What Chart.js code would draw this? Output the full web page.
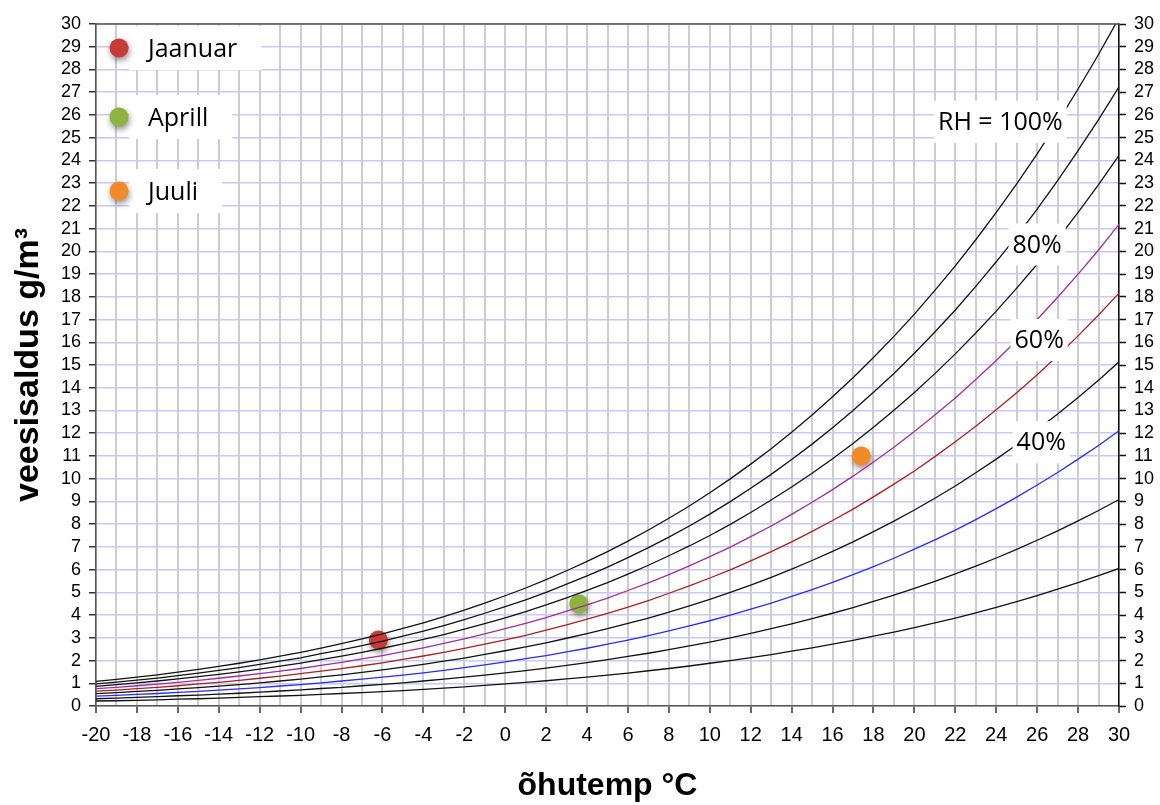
<!DOCTYPE html>
<html>
<head>
<meta charset="utf-8">
<script src="https://cdn.jsdelivr.net/npm/chart.js@4.4.1/dist/chart.umd.min.js"></script>
<style>
  html, body { margin: 0; padding: 0; background: #fff; }
  #chart { display: block; }
</style>
</head>
<body>
<canvas id="chart" width="1160" height="805"></canvas>
<script>
// air temperature, one step per degree
const temps = [-20, -19, -18, -17, -16, -15, -14, -13, -12, -11, -10, -9, -8, -7, -6, -5, -4, -3, -2, -1,
  0, 1, 2, 3, 4, 5, 6, 7, 8, 9, 10, 11, 12, 13, 14, 15, 16, 17, 18, 19,
  20, 21, 22, 23, 24, 25, 26, 27, 28, 29, 30];

// water content g/m3 at each RH
const rh100 = [1.08, 1.17, 1.27, 1.37, 1.49, 1.61, 1.74, 1.88, 2.03, 2.19, 2.36, 2.55, 2.74, 2.95, 3.17, 3.41, 3.66, 3.93, 4.22, 4.53,
  4.85, 5.19, 5.56, 5.95, 6.36, 6.79, 7.25, 7.74, 8.26, 8.80, 9.38, 9.99, 10.64, 11.32, 12.04, 12.80, 13.60, 14.44, 15.33, 16.26,
  17.24, 18.28, 19.36, 20.51, 21.71, 22.97, 24.29, 25.68, 27.14, 28.66, 30.27];
const rh90 = [0.97, 1.05, 1.14, 1.23, 1.34, 1.45, 1.57, 1.69, 1.83, 1.97, 2.12, 2.30, 2.47, 2.66, 2.85, 3.07, 3.29, 3.54, 3.80, 4.08,
  4.37, 4.67, 5.00, 5.36, 5.72, 6.11, 6.53, 6.97, 7.43, 7.92, 8.44, 8.99, 9.58, 10.19, 10.84, 11.52, 12.24, 13.00, 13.80, 14.63,
  15.52, 16.45, 17.42, 18.46, 19.54, 20.67, 21.86, 23.11, 24.43, 25.79, 27.24];
const rh80 = [0.86, 0.94, 1.02, 1.10, 1.19, 1.29, 1.39, 1.50, 1.62, 1.75, 1.89, 2.04, 2.19, 2.36, 2.54, 2.73, 2.93, 3.14, 3.38, 3.62,
  3.88, 4.15, 4.45, 4.76, 5.09, 5.43, 5.80, 6.19, 6.61, 7.04, 7.50, 7.99, 8.51, 9.06, 9.63, 10.24, 10.88, 11.55, 12.26, 13.01,
  13.79, 14.62, 15.49, 16.41, 17.37, 18.38, 19.43, 20.54, 21.71, 22.93, 24.22];
const rh70 = [0.76, 0.82, 0.89, 0.96, 1.04, 1.13, 1.22, 1.32, 1.42, 1.53, 1.65, 1.79, 1.92, 2.07, 2.22, 2.39, 2.56, 2.75, 2.95, 3.17,
  3.40, 3.63, 3.89, 4.17, 4.45, 4.75, 5.08, 5.42, 5.78, 6.16, 6.57, 6.99, 7.45, 7.92, 8.43, 8.96, 9.52, 10.11, 10.73, 11.38,
  12.07, 12.80, 13.55, 14.36, 15.20, 16.08, 17.00, 17.98, 19.00, 20.06, 21.19];
const rh60 = [0.65, 0.70, 0.76, 0.82, 0.89, 0.97, 1.04, 1.13, 1.22, 1.31, 1.42, 1.53, 1.64, 1.77, 1.90, 2.05, 2.20, 2.36, 2.53, 2.72,
  2.91, 3.11, 3.34, 3.57, 3.82, 4.07, 4.35, 4.64, 4.96, 5.28, 5.63, 5.99, 6.38, 6.79, 7.22, 7.68, 8.16, 8.66, 9.20, 9.76,
  10.34, 10.97, 11.62, 12.31, 13.03, 13.78, 14.57, 15.41, 16.28, 17.20, 18.16];
const rh50 = [0.54, 0.59, 0.64, 0.69, 0.75, 0.81, 0.87, 0.94, 1.02, 1.10, 1.18, 1.28, 1.37, 1.48, 1.59, 1.71, 1.83, 1.97, 2.11, 2.27,
  2.43, 2.60, 2.78, 2.98, 3.18, 3.40, 3.63, 3.87, 4.13, 4.40, 4.69, 5.00, 5.32, 5.66, 6.02, 6.40, 6.80, 7.22, 7.67, 8.13,
  8.62, 9.14, 9.68, 10.26, 10.86, 11.49, 12.15, 12.84, 13.57, 14.33, 15.14];
const rh40 = [0.43, 0.47, 0.51, 0.55, 0.60, 0.64, 0.70, 0.75, 0.81, 0.88, 0.94, 1.02, 1.10, 1.18, 1.27, 1.36, 1.46, 1.57, 1.69, 1.81,
  1.94, 2.08, 2.22, 2.38, 2.54, 2.72, 2.90, 3.10, 3.30, 3.52, 3.75, 4.00, 4.26, 4.53, 4.82, 5.12, 5.44, 5.78, 6.13, 6.50,
  6.90, 7.31, 7.74, 8.20, 8.68, 9.19, 9.72, 10.27, 10.86, 11.46, 12.11];
const rh30 = [0.32, 0.35, 0.38, 0.41, 0.45, 0.48, 0.52, 0.56, 0.61, 0.66, 0.71, 0.77, 0.82, 0.89, 0.95, 1.02, 1.10, 1.18, 1.27, 1.36,
  1.46, 1.56, 1.67, 1.79, 1.91, 2.04, 2.18, 2.32, 2.48, 2.64, 2.81, 3.00, 3.19, 3.40, 3.61, 3.84, 4.08, 4.33, 4.60, 4.88,
  5.17, 5.48, 5.81, 6.15, 6.51, 6.89, 7.29, 7.70, 8.14, 8.60, 9.08];
const rh20 = [0.22, 0.23, 0.25, 0.27, 0.30, 0.32, 0.35, 0.38, 0.41, 0.44, 0.47, 0.51, 0.55, 0.59, 0.63, 0.68, 0.73, 0.79, 0.84, 0.91,
  0.97, 1.04, 1.11, 1.19, 1.27, 1.36, 1.45, 1.55, 1.65, 1.76, 1.88, 2.00, 2.13, 2.26, 2.41, 2.56, 2.72, 2.89, 3.07, 3.25,
  3.45, 3.66, 3.87, 4.10, 4.34, 4.59, 4.86, 5.14, 5.43, 5.73, 6.05];

const curves = [rh100, rh90, rh80, rh70, rh60, rh50, rh40, rh30, rh20];
const curveNames = ["100%", "90%", "80%", "70%", "60%", "50%", "40%", "30%", "20%"];
const curveColors = ["#111", "#111", "#111", "#a02ca0", "#a82020", "#111", "#2a2aff", "#111", "#111"];

// monthly points
const monthNames = ["Jaanuar", "Aprill", "Juuli"];
const monthTemps = [-6.2, 3.6, 17.4];
const monthWater = [2.9, 4.5, 11.0];
const monthColors = ["#c93b38", "#8cb43e", "#f28a2a"];

// RH labels on the curves
const noteTexts = ["RH = 100%", "80%", "60%", "40%"];
const noteTemps = [24.2, 26.0, 26.1, 26.2];
const noteWater = [25.7, 20.3, 16.1, 11.6];

const xTicks = "-20 -18 -16 -14 -12 -10 -8 -6 -4 -2 0 2 4 6 8 10 12 14 16 18 20 22 24 26 28 30".split(" ").map(Number);

const datasets = curves.map((vals, k) => ({
  label: "RH " + curveNames[k],
  data: temps.map((t, i) => ({ x: t, y: vals[i] })),
  borderColor: curveColors[k],
  borderWidth: 1.3,
  pointRadius: 0,
  tension: 0,
  fill: false
}));

datasets.push({
  label: "kuud",
  data: monthTemps.map((t, i) => ({ x: t, y: monthWater[i] })),
  showLine: false,
  pointRadius: 9.5,
  pointHoverRadius: 9.5,
  pointBackgroundColor: monthColors,
  pointBorderWidth: 0
});
const monthIndex = datasets.length - 1;

const FONT = "'Liberation Sans', Arial, sans-serif";
const NOTE_FONT = "25px 'Open Sans', sans-serif";

const overlay = {
  id: "overlay",
  beforeDatasetDraw(chart, args) {
    if (args.index !== monthIndex) return;
    const ctx = chart.ctx;
    ctx.save();
    ctx.shadowColor = "rgba(0,0,0,0.45)";
    ctx.shadowBlur = 6;
    ctx.shadowOffsetX = 1;
    ctx.shadowOffsetY = 3;
  },
  afterDatasetDraw(chart, args) {
    if (args.index === monthIndex) chart.ctx.restore();
  },
  afterDatasetsDraw(chart) {
    const { ctx, chartArea, scales } = chart;
    ctx.save();
    // frame top line
    ctx.strokeStyle = "#555";
    ctx.lineWidth = 1.5;
    ctx.beginPath();
    ctx.moveTo(chartArea.left, chartArea.top);
    ctx.lineTo(chartArea.right, chartArea.top);
    ctx.stroke();

    ctx.font = NOTE_FONT;
    ctx.textBaseline = "middle";

    // curve labels
    ctx.textAlign = "center";
    noteTexts.forEach((txt, i) => {
      const px = scales.x.getPixelForValue(noteTemps[i]);
      const py = scales.y.getPixelForValue(noteWater[i]);
      const w = ctx.measureText(txt).width + 8;
      ctx.fillStyle = "#fff";
      ctx.fillRect(px - w / 2, py - 21, w, 42);
      ctx.fillStyle = "#000";
      ctx.fillText(txt, px, py + 1);
    });

    // legend
    const dotX = chartArea.left + 23;
    const rows = [24, 93, 167];
    ctx.textAlign = "left";
    monthNames.forEach((name, i) => {
      const y = chartArea.top + rows[i];
      const w = ctx.measureText(name).width;
      ctx.fillStyle = "#fff";
      ctx.fillRect(dotX + 10, y - 22, 19 + w + 24, 44);
      ctx.fillStyle = "#000";
      ctx.fillText(name, dotX + 29, y + 2);
      ctx.save();
      ctx.shadowColor = "rgba(0,0,0,0.45)";
      ctx.shadowBlur = 6;
      ctx.shadowOffsetX = 1;
      ctx.shadowOffsetY = 3;
      ctx.fillStyle = monthColors[i];
      ctx.beginPath();
      ctx.arc(dotX, y, 9.5, 0, Math.PI * 2);
      ctx.fill();
      ctx.restore();
    });
    ctx.restore();
  }
};

new Chart(document.getElementById("chart"), {
  type: "line",
  data: { datasets },
  options: {
    responsive: false,
    animation: false,
    layout: { padding: { top: 24, left: 0, right: 0, bottom: 0 } },
    plugins: { legend: { display: false }, tooltip: { enabled: false } },
    scales: {
      x: {
        type: "linear",
        min: -20,
        max: 30,
        afterBuildTicks: (s) => { s.ticks = temps.map((v) => ({ value: v })); },
        afterFit: (s) => { s.height = 99; },
        ticks: {
          autoSkip: false,
          maxRotation: 0,
          padding: 10,
          color: "#000",
          font: { family: FONT, size: 20 },
          callback: (v) => (xTicks.includes(v) ? String(v) : "")
        },
        grid: {
          color: "#cdcdcd",
          lineWidth: 2,
          tickLength: 7,
          tickWidth: 1.5,
          tickColor: (c) => (c.tick && xTicks.includes(c.tick.value) ? "#333" : "rgba(0,0,0,0)")
        },
        border: { color: "#555", width: 1.5 },
        title: {
          display: true,
          text: "õhutemp °C",
          color: "#000",
          font: { family: FONT, size: 32, weight: "bold" },
          padding: { top: 0, bottom: 0 }
        }
      },
      y: {
        min: 0,
        max: 30,
        afterFit: (s) => { s.width = 96; },
        ticks: {
          stepSize: 1,
          autoSkip: false,
          padding: 8,
          color: "#000",
          font: { family: FONT, size: 18 }
        },
        grid: { color: "#c8c8f6", lineWidth: 1.5, tickLength: 7, tickColor: "#333", tickWidth: 1.5 },
        border: { color: "#555", width: 1.5 },
        title: {
          display: true,
          text: "veesisaldus g/m³",
          color: "#000",
          font: { family: FONT, size: 34, weight: "bold" },
          padding: { top: 8, bottom: 0 }
        }
      },
      y2: {
        position: "right",
        min: 0,
        max: 30,
        afterFit: (s) => { s.width = 41; },
        ticks: {
          stepSize: 1,
          autoSkip: false,
          padding: 8,
          color: "#000",
          font: { family: FONT, size: 18 }
        },
        grid: { drawOnChartArea: false, tickLength: 7, tickColor: "#111", tickWidth: 1.5 },
        border: { color: "#111", width: 1.5 }
      }
    }
  },
  plugins: [overlay]
});
</script>
</body>
</html>
